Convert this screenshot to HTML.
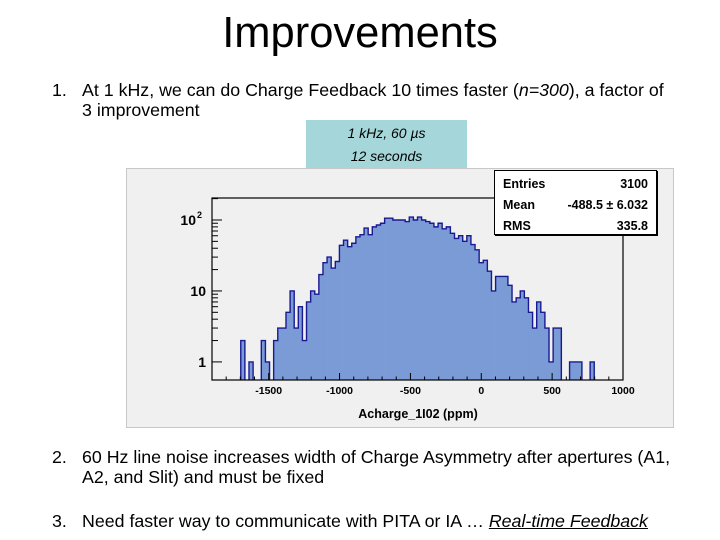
<!DOCTYPE html>
<html><head><meta charset="utf-8"><style>
body{margin:0;width:720px;height:540px;background:#fff;font-family:"Liberation Sans",sans-serif;position:relative;overflow:hidden}
.t{position:absolute;font-size:17.8px;color:#000;white-space:nowrap}
</style></head><body>
<div style="position:absolute;left:0;width:720px;top:9px;text-align:center;font-size:43.5px">Improvements</div>
<div class="t" style="left:52px;top:80px">1.</div>
<div class="t" style="left:82px;top:80px">At 1 kHz, we can do Charge Feedback 10 times faster (<i>n=300</i>), a factor of</div>
<div class="t" style="left:82px;top:100px">3 improvement</div>
<div style="position:absolute;left:306px;top:120px;width:161px;height:48px;background:#a5d6da;font-size:14px;font-style:italic;text-align:center;line-height:23px;padding-top:2px;box-sizing:border-box">1 kHz, 60 µs<br>12 seconds</div>
<div class="t" style="left:52px;top:447px">2.</div>
<div class="t" style="left:82px;top:447px">60 Hz line noise increases width of Charge Asymmetry after apertures (A1,</div>
<div class="t" style="left:82px;top:467px">A2, and Slit) and must be fixed</div>
<div class="t" style="left:52px;top:511px">3.</div>
<div class="t" style="left:82px;top:511px">Need faster way to communicate with PITA or IA … <i><u>Real-time Feedback</u></i></div>
<svg id="chart" style="position:absolute;left:0;top:0" width="720" height="540">
<rect x="126.5" y="168.5" width="547" height="259" fill="#f0f0f0" stroke="#c8c8c8"/>
</svg>
<script>
const counts=[0,0,0,0,0,0,0,2,0,1,0,0,2,1,0,2,3,3,5,10,3,6,2,7,10,9,17,25,30,21,26,44,52,42,47,58,62,77,62,80,85,90,106,106,100,100,100,95,110,100,110,100,95,90,80,90,75,80,65,55,60,50,60,45,38,25,27,19,10,16,16,16,12,7,8,10,8,5,3,7,5,3,1,3,3,0,0,1,1,1,0,0,1,0,0,0,0,0,0,0];
const xMin=-1900,xMax=1000;
const xTicks=[-1500,-1000,-500,0,500,1000];
const xTickLabels=["-1500","-1000","-500","0","500","1000"];
const stats=[["Entries","3100"],["Mean","-488.5 \u00b1  6.032"],["RMS","335.8"]];
const L=212,R=623,T=198,B=380,lMin=-0.255,lMax=2.31;
const X=v=>L+(v-xMin)/(xMax-xMin)*(R-L);
const Y=v=>B-(Math.log10(v)-lMin)/(lMax-lMin)*(B-T);
const svg=document.getElementById('chart');const NS='http://www.w3.org/2000/svg';
function mk(t,a){const e=document.createElementNS(NS,t);for(const k in a)e.setAttribute(k,a[k]);svg.appendChild(e);return e;}
const bw=(xMax-xMin)/counts.length;
let d='';let prev=null;
counts.forEach((c,i)=>{const x0=X(xMin+i*bw),x1=X(xMin+(i+1)*bw);
 if(c>0){const b=mk('rect',{x:x0,y:Y(c),width:x1-x0+0.3,height:B-Y(c),fill:'#7b9bd6'});
 
 
 const y=Y(c);
 if(prev===null||prev===0)d+=`M${x0},${B}L${x0},${y}`;else d+=`L${x0},${y}`;
 d+=`L${x1},${y}`;
 if(i===counts.length-1||counts[i+1]===0)d+=`L${x1},${B}`;}
 prev=c;});
const ol=mk('path',{d:d,fill:'none',stroke:'#1a1a90','stroke-width':1.4});


const fr=mk('rect',{x:L,y:T,width:R-L,height:B-T,fill:'none',stroke:'#000','stroke-width':1.2});


xTicks.forEach((v,i)=>{mk('line',{x1:X(v),x2:X(v),y1:B,y2:B-7,stroke:'#000'});
 for(let k=1;k<5;k++){const m=v-k*100;if(m>xMin)mk('line',{x1:X(m),x2:X(m),y1:B,y2:B-3.5,stroke:'#000'});}
 const t=mk('text',{x:X(v),y:B+14,'text-anchor':'middle','font-size':10.5,'font-weight':'bold','font-family':'Liberation Sans'});
 t.textContent=xTickLabels[i];
 
 });
[1,10,100].forEach(dec=>{for(let k=1;k<10;k++){const v=dec*k;const ly=Math.log10(v);if(ly<lMin||ly>lMax)continue;
 mk('line',{x1:L,x2:L+(k===1?10:6),y1:Y(v),y2:Y(v),stroke:'#000'});}});
[[1,'1'],[10,'10'],[100,'10']].forEach(([v,s])=>{const t=mk('text',{x:v===100?196:206,y:Y(v)+5,'text-anchor':'end','font-size':14,'font-weight':'bold','font-family':'Liberation Sans'});
 t.textContent=s;
 
 
 if(v===100){const s2=mk('text',{x:197,y:Y(v)-2,'font-size':9,'font-weight':'bold','font-family':'Liberation Sans'});s2.textContent='2';}});
const xt=mk('text',{x:418,y:418,'text-anchor':'middle','font-size':12.5,'font-weight':'bold','font-family':'Liberation Sans'});
xt.textContent='Acharge_1I02 (ppm)';


const sb=mk('rect',{x:494.5,y:170.5,width:162,height:64,fill:'#fff',stroke:'#000'});


mk('line',{x1:495,x2:657,y1:235,y2:235,stroke:'#000','stroke-width':2});
mk('line',{x1:657,x2:657,y1:171,y2:236,stroke:'#000','stroke-width':2});
stats.forEach((r,i)=>{const y=188+i*21;
 const a=mk('text',{x:503,y:y,'font-size':12.5,'font-weight':'bold','font-family':'Liberation Sans'});a.textContent=r[0];
 
 
 const b=mk('text',{x:648,y:y,'text-anchor':'end','font-size':12.5,'font-weight':'bold','font-family':'Liberation Sans','xml:space':'preserve'});b.textContent=r[1];
 
 });
</script>
</body></html>
